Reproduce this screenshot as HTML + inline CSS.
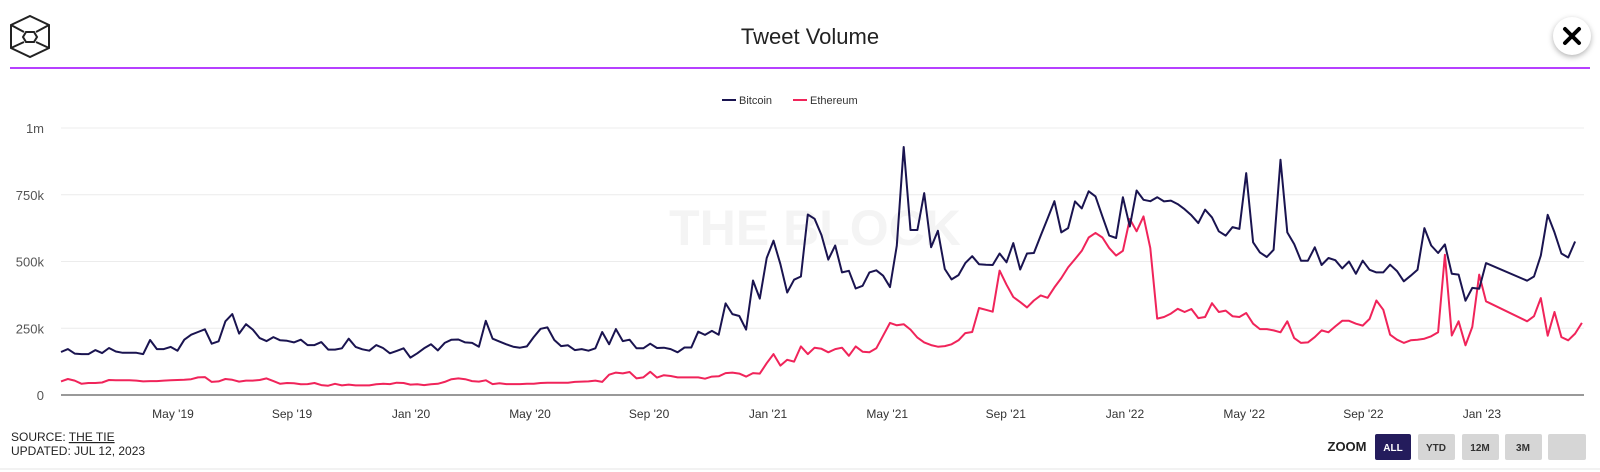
<!DOCTYPE html>
<html><head><meta charset="utf-8"><style>
html,body{margin:0;padding:0;background:#fff;}
body{width:1600px;height:472px;position:relative;overflow:hidden;font-family:"Liberation Sans",sans-serif;}
svg{position:absolute;left:0;top:0;}
</style></head><body>
<svg id="chart" width="1600" height="472" viewBox="0 0 1600 472">
  <g fill="none" stroke="#222" stroke-width="2">
    <polygon points="30,16 49,25 49,48 30,57 11,48 11,25"/>
    <polygon points="26,32 34,32 37,37 34,42 26,42 23,37"/>
    <line x1="11" y1="25" x2="24" y2="32"/><line x1="49" y1="25" x2="36" y2="32"/>
    <line x1="11" y1="48" x2="24" y2="42"/><line x1="49" y1="48" x2="36" y2="42"/>
  </g>
  <text x="810" y="44" text-anchor="middle" font-size="22" fill="#222">Tweet Volume</text>
  <line x1="10" y1="68" x2="1590" y2="68" stroke="#9d00ff" stroke-width="1.5"/>
  <g>
    <circle cx="1572" cy="36" r="19" fill="#fff" style="filter:drop-shadow(0 2px 3px rgba(0,0,0,0.3))"/>
    <path d="M1565 29 L1579 43 M1579 29 L1565 43" stroke="#000" stroke-width="4" stroke-linecap="round"/>
  </g>
  <text x="815" y="245" text-anchor="middle" font-size="50" font-weight="bold" fill="#f4f4f4">THE BLOCK</text>
  <g>
    <g>
      <line x1="722" y1="100" x2="736" y2="100" stroke="#1a1450" stroke-width="2"/>
      <text x="739" y="104" font-size="11" fill="#333">Bitcoin</text>
    </g>
    <g>
      <line x1="793" y1="100" x2="807" y2="100" stroke="#f0245a" stroke-width="2"/>
      <text x="810" y="104" font-size="11" fill="#333">Ethereum</text>
    </g>
  </g>
  <g id="grid"></g>
  <g id="xaxis"></g>
  <g id="series"></g>
  <g font-size="12" fill="#222">
    <text x="11" y="441">SOURCE: <tspan text-decoration="underline">THE TIE</tspan></text>
    <text x="11" y="455">UPDATED: JUL 12, 2023</text>
  </g>
  <g font-size="10" font-weight="bold" text-anchor="middle">
    <text x="1347" y="451" font-size="13" fill="#222">ZOOM</text>
    <g><rect x="1375" y="434" width="36" height="26" rx="2" fill="#241c5c"/><text x="1393" y="451" fill="#fff">ALL</text></g>
    <g><rect x="1418" y="434" width="37" height="26" rx="2" fill="#d6d6d6"/><text x="1436" y="451" fill="#333">YTD</text></g>
    <g><rect x="1462" y="434" width="37" height="26" rx="2" fill="#d6d6d6"/><text x="1480" y="451" fill="#333">12M</text></g>
    <g><rect x="1505" y="434" width="37" height="26" rx="2" fill="#d6d6d6"/><text x="1523" y="451" fill="#333">3M</text></g>
    <g><rect x="1548" y="434" width="38" height="26" rx="2" fill="#d6d6d6"/></g>
  </g>
  <line x1="0" y1="469" x2="1600" y2="469" stroke="#eee" stroke-width="1.5"/>
</svg>
<script>
const yTickValues=[0,250,500,750,1000];
const yTickLabels=["0","250k","500k","750k","1m"];
const xTickPos=[16.35,33.72,51.09,68.46,85.84,103.2,120.6,137.9,155.3,172.7,190.1,207.4];
const xTickLabels=["May '19","Sep '19","Jan '20","May '20","Sep '20","Jan '21","May '21","Sep '21","Jan '22","May '22","Sep '22","Jan '23"];
const btcWeeks=[];for(let i=0;i<=208;i++)btcWeeks.push(i);btcWeeks.push(214,215,216,217,218,219,220,221,222);
const btcValues=[161,172,155,153,153,168,157,176,163,158,158,158,153,206,172,172,180,166,207,226,236,246,192,201,276,303,230,265,245,213,202,217,205,203,197,207,187,187,198,170,170,175,211,180,171,166,187,176,156,165,175,140,156,175,190,167,195,207,208,197,195,181,278,211,200,190,181,177,182,217,248,253,206,183,186,
168,172,166,175,236,190,247,202,207,175,175,192,176,177,172,160,178,178,237,225,240,226,343,303,296,245,429,361,513,578,490,384,432,444,676,660,599,507,560,459,465,399,409,459,467,447,404,559,929,618,618,756,553,615,472,433,449,494,520,490,488,487,530,497,569,470,530,532,597,661,726,609,625,725,
699,763,744,669,597,588,741,631,766,731,726,741,725,728,715,696,673,644,694,665,613,597,629,622,831,572,534,517,544,881,609,565,503,503,553,487,513,505,474,500,454,503,469,459,459,488,464,426,447,469,625,560,532,564,454,451,353,401,398,
494,428,444,522,675,609,530,515,575];
const ethWeeks=btcWeeks.slice();
const ethValues=[51,60,54,42,45,45,47,56,55,55,55,54,51,52,52,54,55,56,57,59,66,67,49,51,60,57,50,54,54,56,62,52,42,45,44,40,41,45,37,35,42,36,39,36,36,36,40,42,41,46,45,39,40,37,40,42,49,59,62,59,52,50,55,41,44,41,41,41,42,42,45,46,46,46,46,
49,50,51,54,49,76,84,81,86,62,66,87,65,74,71,66,66,66,66,61,69,70,82,84,80,69,82,80,119,153,110,132,125,182,153,177,173,160,172,177,147,182,162,160,175,222,270,261,265,245,215,197,187,181,183,190,205,232,236,326,319,312,466,413,367,348,328,354,373,364,403,438,478,509,540,
590,607,590,550,522,540,659,613,669,550,286,292,305,323,311,322,288,292,344,311,316,295,292,307,267,247,247,242,235,276,213,195,197,217,242,235,257,278,278,267,260,285,354,319,226,207,195,205,207,211,220,235,525,223,276,186,255,451,351,
276,295,363,222,311,217,205,230,270];
const NS='http://www.w3.org/2000/svg';
const X0=61,X1=1584,Y0=395,Y1=128;
const wMax=222.3;
function xScale(w){return X0+w/wMax*(X1-X0);}
function yScale(v){return Y0-v/1000*(Y0-Y1);}
function mk(tag,attrs,parent){const e=document.createElementNS(NS,tag);for(const k in attrs)e.setAttribute(k,attrs[k]);parent.appendChild(e);return e;}
const grid=document.getElementById('grid');
yTickValues.forEach((v,i)=>{
  if(v>0){const l=mk('line',{x1:X0,x2:X1,y1:yScale(v),y2:yScale(v),stroke:'#ececec','stroke-width':1},grid);
  
  }
  const t=mk('text',{x:44,y:yScale(v)+5,'text-anchor':'end','font-size':13,fill:'#555'},grid);
  t.textContent=yTickLabels[i];
  
  
});
const xa=document.getElementById('xaxis');
const ax=mk('line',{x1:X0,x2:X1,y1:Y0,y2:Y0,stroke:'#999','stroke-width':2},xa);


xTickPos.forEach((p,i)=>{
  const t=mk('text',{x:xScale(p),y:418,'text-anchor':'middle','font-size':12,fill:'#333'},xa);
  t.textContent=xTickLabels[i];
  
  
});
const sg=document.getElementById('series');
function drawLine(ws,vs,color,name){
  const d=ws.map((w,i)=>(i?'L':'M')+xScale(w).toFixed(1)+' '+yScale(vs[i]).toFixed(1)).join(' ');
  const p=mk('path',{d:d,fill:'none',stroke:color,'stroke-width':2,'stroke-linejoin':'round'},sg);
  
  
}
drawLine(ethWeeks,ethValues,'#f0245a','ethereum-line');
drawLine(btcWeeks,btcValues,'#1a1450','bitcoin-line');
</script>
</body></html>
